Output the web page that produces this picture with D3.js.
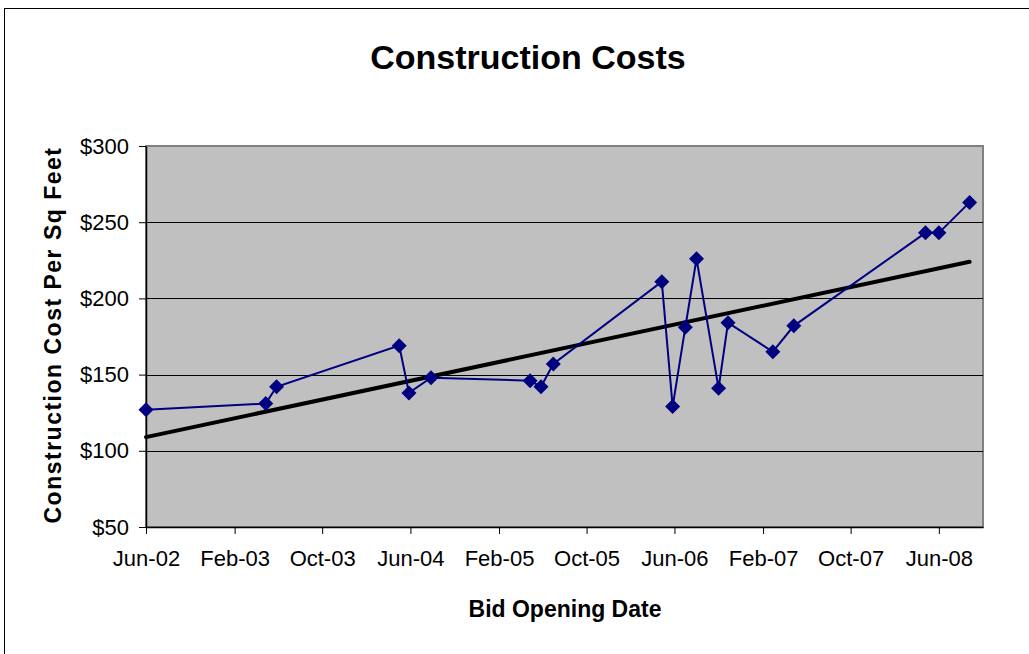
<!DOCTYPE html>
<html>
<script src="https://d3js.org/d3.v7.min.js"></script>

<head>
    <style>
        body {
            margin: 0;
            background-color: #fff;
            font-family: "Liberation Sans", Arial, Helvetica, sans-serif;
        }

        svg {
            display: block;
        }
    </style>
</head>

<body>
</body>
<script>
    // bid opening dates and cost per sq ft
    const bidDates = ["2002-06-01", "2003-04-28", "2003-05-28", "2004-05-01", "2004-05-28", "2004-07-28",
        "2005-04-28", "2005-05-28", "2005-07-01", "2006-04-27", "2006-05-27", "2006-07-01", "2006-08-01",
        "2006-10-01", "2006-10-27", "2007-02-28", "2007-04-27", "2008-04-25", "2008-06-01", "2008-08-25"];
    const costs = [127, 131, 142, 169, 138, 148, 146, 142, 157, 211, 129, 181, 226, 141, 184, 165, 182, 243, 243, 263];

    // linear trendline end points
    const trendDates = ["2002-06-01", "2008-08-25"];
    const trendValues = [109, 224];

    const xTickLabels = ["Jun-02", "Feb-03", "Oct-03", "Jun-04", "Feb-05", "Oct-05", "Jun-06", "Feb-07", "Oct-07", "Jun-08"];
    const yTicks = [50, 100, 150, 200, 250, 300];
    const xDomain = ["Jun-02", "Oct-08"];

    const width = 1029,
        height = 654;
    const svg = d3.select("body").append("svg").attr("width", width).attr("height", height);

    const parseDay = d3.timeParse("%Y-%m-%d");
    const parseMonth = d3.timeParse("%b-%y");

    const plotLeft = 146, plotRight = 983, plotTop = 146, plotBottom = 527;

    const x = d3.scaleTime()
        .domain(xDomain.map(parseMonth))
        .range([plotLeft, plotRight]);
    const y = d3.scaleLinear()
        .domain([50, 300])
        .range([plotBottom, plotTop]);

    // outer chart border
    svg.append("rect")
        .attr("x", 4.5).attr("y", 8.5)
        .attr("width", width + 10).attr("height", height + 10)
        .attr("fill", "none")
        .attr("stroke", "#000");

    // plot area
    svg.append("rect")
        .attr("x", plotLeft).attr("y", plotTop)
        .attr("width", plotRight - plotLeft).attr("height", plotBottom - plotTop)
        .attr("fill", "#c0c0c0")
        .attr("stroke", "#808080")
        .attr("stroke-width", 2);

    svg.selectAll(".grid")
        .data(yTicks.slice(1, -1))
        .join("line")
        .attr("class", "grid")
        .attr("x1", plotLeft).attr("x2", plotRight)
        .attr("y1", d => Math.round(y(d)) + 0.5)
        .attr("y2", d => Math.round(y(d)) + 0.5)
        .attr("stroke", "#000")
        .attr("stroke-width", 1);

    // axes
    const yAxis = svg.append("g")
        .attr("transform", `translate(${plotLeft},0)`)
        .call(d3.axisLeft(y).tickValues(yTicks).tickSize(7).tickSizeOuter(0).tickPadding(10)
            .tickFormat(d => "$" + d));
    const xAxis = svg.append("g")
        .attr("transform", `translate(0,${plotBottom})`)
        .call(d3.axisBottom(x).tickValues(xTickLabels.map(parseMonth)).tickSize(7).tickSizeOuter(0).tickPadding(16)
            .tickFormat(d3.timeFormat("%b-%y")));

    [yAxis, xAxis].forEach(g => {
        g.select(".domain").attr("stroke", "#000").attr("stroke-width", 1.5);
        g.selectAll(".tick line").attr("stroke", "#000");
        g.selectAll("text")
            .attr("font-family", "Liberation Sans, Arial, sans-serif")
            .attr("font-size", 22)
            .attr("fill", "#000");
    });

    // trendline
    const trend = trendDates.map((d, i) => ({ date: parseDay(d), value: trendValues[i] }));
    svg.append("path")
        .datum(trend)
        .attr("d", d3.line().x(d => x(d.date)).y(d => y(d.value)))
        .attr("stroke", "#000")
        .attr("stroke-width", 4)
        .attr("stroke-linecap", "round")
        .attr("fill", "none");

    // series
    const data = bidDates.map((d, i) => ({ date: parseDay(d), value: costs[i] }));
    svg.append("path")
        .datum(data)
        .attr("d", d3.line().x(d => x(d.date)).y(d => y(d.value)))
        .attr("stroke", "#000080")
        .attr("stroke-width", 2)
        .attr("fill", "none");

    const r = 7.5;
    svg.selectAll(".pt")
        .data(data)
        .join("path")
        .attr("class", "pt")
        .attr("d", `M0,${-r}L${r},0L0,${r}L${-r},0Z`)
        .attr("transform", d => `translate(${x(d.date)},${y(d.value)})`)
        .attr("fill", "#000080");

    // titles
    svg.append("text")
        .attr("x", 528).attr("y", 69)
        .attr("text-anchor", "middle")
        .attr("font-size", 34)
        .attr("font-weight", "bold")
        .text("Construction Costs");

    svg.append("text")
        .attr("x", 565).attr("y", 617)
        .attr("text-anchor", "middle")
        .attr("font-size", 23)
        .attr("font-weight", "bold")
        .text("Bid Opening Date");

    svg.append("text")
        .attr("transform", "translate(61,335) rotate(-90)")
        .attr("text-anchor", "middle")
        .attr("font-size", 23)
        .attr("font-weight", "bold")
        .attr("letter-spacing", 1.5)
        .text("Construction Cost Per Sq Feet");
</script>

</html>
